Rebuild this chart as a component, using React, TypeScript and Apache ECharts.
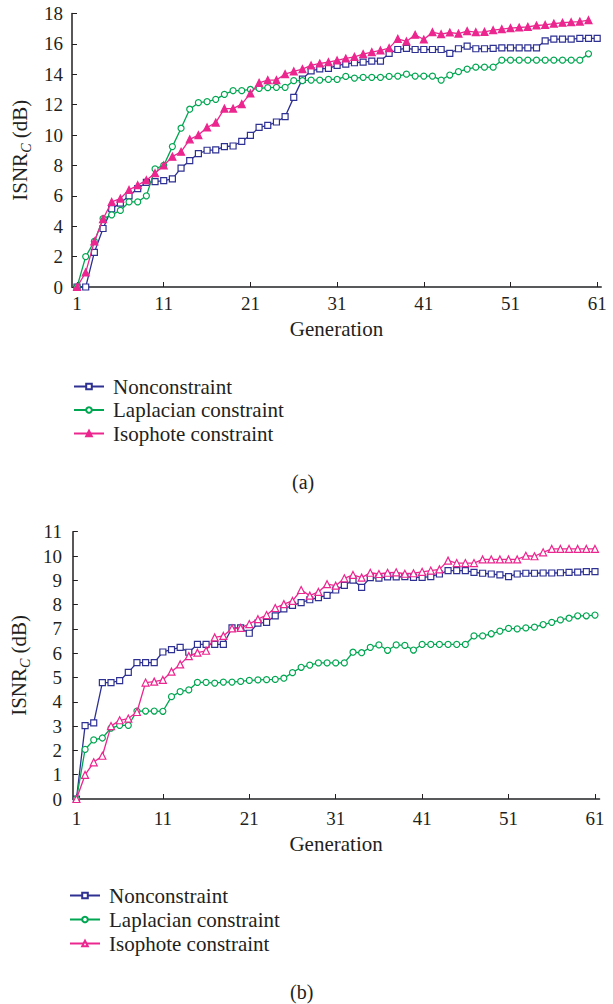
import React, { useEffect, useRef } from "react";
import * as echarts from "echarts";

const seriesNames = ["Nonconstraint", "Laplacian constraint", "Isophote constraint"];
const xTickLabels = [1, 11, 21, 31, 41, 51, 61];
const panelLabels = ["(a)", "(b)"];

// Panel (a)
const topNonconstraint = [
  0, 0, 2.28, 3.85, 5.15, 5.52, 6.0, 6.48, 6.88, 6.94,
  7.0, 7.12, 7.82, 8.32, 8.78, 9.0, 9.02, 9.24, 9.28, 9.59,
  9.98, 10.5, 10.64, 10.86, 11.21, 12.48, 13.68, 14.23, 14.36, 14.39,
  14.58, 14.67, 14.76, 14.8, 14.87, 14.87, 15.37, 15.63, 15.7, 15.63,
  15.63, 15.63, 15.63, 15.37, 15.68, 15.85, 15.68, 15.68, 15.7, 15.74,
  15.74, 15.74, 15.74, 15.74, 16.2, 16.31, 16.31, 16.31, 16.36, 16.36,
  16.36,
];
const topLaplacian = [
  0, 2.0, 3.0, 4.5, 4.75, 5.04, 5.6, 5.6, 6.0, 7.77,
  8.0, 9.24, 10.45, 11.7, 12.13, 12.2, 12.35, 12.68, 12.92, 12.92,
  13.0, 13.07, 13.12, 13.14, 13.14, 13.58, 13.58, 13.62, 13.62, 13.66,
  13.66, 13.86, 13.75, 13.8, 13.8, 13.8, 13.86, 13.88, 14.01, 13.88,
  13.88, 13.88, 13.62, 13.95, 14.17, 14.34, 14.47, 14.47, 14.47, 14.93,
  14.93, 14.93, 14.93, 14.93, 14.93, 14.93, 14.93, 14.93, 14.93, 15.35,
];
const topIsophote = [
  0, 0.96, 3.0, 4.47, 5.6, 5.82, 6.39, 6.7, 7.03, 7.49,
  8.0, 8.58, 8.9, 9.72, 10.0, 10.5, 10.82, 11.74, 11.74, 12.04,
  12.74, 13.44, 13.62, 13.62, 14.01, 14.19, 14.34, 14.58, 14.71, 14.8,
  14.91, 15.04, 15.15, 15.33, 15.46, 15.57, 15.72, 16.33, 16.16, 16.6,
  16.29, 16.77, 16.64, 16.75, 16.68, 16.84, 16.77, 16.79, 16.9, 16.97,
  17.04, 17.08, 17.12, 17.21, 17.25, 17.34, 17.39, 17.43, 17.47, 17.56,
];

// Panel (b)
const botNonconstraint = [
  0, 3.02, 3.13, 4.79, 4.79, 4.87, 5.21, 5.61, 5.61, 5.61,
  6.05, 6.15, 6.24, 6.04, 6.36, 6.36, 6.36, 6.36, 7.04, 7.04,
  6.82, 7.24, 7.27, 7.54, 7.82, 7.97, 8.08, 8.2, 8.29, 8.38,
  8.6, 8.79, 9.01, 8.71, 9.11, 9.09, 9.14, 9.14, 9.15, 9.12,
  9.12, 9.15, 9.26, 9.4, 9.4, 9.4, 9.33, 9.29, 9.26, 9.22,
  9.15, 9.26, 9.29, 9.29, 9.3, 9.3, 9.31, 9.33, 9.34, 9.36,
  9.36,
];
const botLaplacian = [
  0, 2.04, 2.43, 2.51, 2.92, 3.03, 3.03, 3.62, 3.62, 3.62,
  3.61, 4.21, 4.42, 4.49, 4.8, 4.8, 4.77, 4.81, 4.81, 4.84,
  4.88, 4.9, 4.91, 4.92, 4.97, 5.2, 5.42, 5.51, 5.6, 5.6,
  5.6, 5.6, 6.04, 6.02, 6.24, 6.34, 6.12, 6.34, 6.32, 6.13,
  6.36, 6.36, 6.36, 6.36, 6.36, 6.36, 6.71, 6.71, 6.8, 6.91,
  7.02, 7.0, 7.04, 7.07, 7.18, 7.27, 7.37, 7.44, 7.54, 7.54,
  7.57,
];
const botIsophote = [
  0, 0.99, 1.51, 1.78, 3.0, 3.24, 3.31, 3.58, 4.79, 4.83,
  4.9, 5.24, 5.54, 5.88, 6.02, 6.1, 6.65, 6.71, 7.02, 7.04,
  7.2, 7.4, 7.57, 7.86, 8.02, 8.15, 8.6, 8.37, 8.52, 8.84,
  8.78, 9.08, 9.22, 9.11, 9.31, 9.26, 9.31, 9.33, 9.27, 9.29,
  9.35, 9.4, 9.45, 9.81, 9.71, 9.71, 9.71, 9.86, 9.86, 9.86,
  9.86, 9.86, 10.01, 9.99, 10.15, 10.29, 10.29, 10.29, 10.29, 10.29,
  10.29,
];

const FONT = "'Liberation Serif', 'Times New Roman', serif";
const TEXT = "#231f20";
const BLUE = "#2e3192";
const GREEN = "#00a651";
const PINK = "#ec268f";

const toPairs = (vals: number[]) => vals.map((v, i) => [i + 1, v]);

type Panel = {
  values: number[][];
  pinkFilled: boolean;
  grid: { left: number; top: number; width: number; height: number };
  xMin: number;
  xMax: number;
  yMax: number;
  yInterval: number;
  xLabelMargin: number;
  xNameGap: number;
  yLabelMargin: number;
  yNameGap: number;
  legendLeft: number;
  legendTop: number;
  legendRow: number;
  caption: string;
  captionX: number;
  captionY: number;
};

function buildOption(p: Panel) {
  const symbols = ["rect", "circle", "triangle"];
  const colors = [BLUE, GREEN, PINK];
  const fills = ["#ffffff", "#ffffff", p.pinkFilled ? PINK : "#ffffff"];
  const sizes = [6, 6, 7];
  return {
    animation: false,
    grid: { ...p.grid, containLabel: false },
    legend: {
      orient: "vertical",
      left: p.legendLeft,
      top: p.legendTop,
      padding: 0,
      itemWidth: 30,
      itemHeight: 7,
      itemGap: p.legendRow - 21,
      selectedMode: false,
      textStyle: {
        fontFamily: FONT,
        fontSize: 21,
        color: TEXT,
        lineHeight: 21,
        padding: [0, 0, 0, 4],
      },
      data: seriesNames,
    },
    graphic: [
      {
        type: "text",
        left: p.captionX,
        top: p.captionY,
        style: { text: p.caption, font: `20px ${FONT}`, fill: TEXT },
      },
    ],
    xAxis: {
      type: "value",
      min: p.xMin,
      max: p.xMax,
      name: "Generation",
      nameLocation: "middle",
      nameGap: p.xNameGap,
      nameTextStyle: { fontFamily: FONT, fontSize: 21, color: TEXT },
      axisLine: { show: true, lineStyle: { color: "#58595b", width: 2 } },
      axisTick: {
        show: true,
        inside: true,
        length: 5,
        customValues: xTickLabels,
        lineStyle: { color: TEXT, width: 1 },
      },
      axisLabel: {
        customValues: xTickLabels,
        margin: p.xLabelMargin,
        fontFamily: FONT,
        fontSize: 19,
        color: TEXT,
      },
      splitLine: { show: false },
    },
    yAxis: {
      type: "value",
      min: 0,
      max: p.yMax,
      interval: p.yInterval,
      name: "{n|ISNR}{s|C}{n| (dB)}",
      nameLocation: "middle",
      nameRotate: 90,
      nameGap: p.yNameGap,
      nameTextStyle: {
        fontFamily: FONT,
        color: TEXT,
        rich: {
          n: { fontFamily: FONT, fontSize: 21, color: TEXT, lineHeight: 24, verticalAlign: "top" },
          s: {
            fontFamily: FONT,
            fontSize: 14,
            fontStyle: "italic",
            color: TEXT,
            lineHeight: 14,
            verticalAlign: "bottom",
          },
        },
      },
      axisLine: { show: true, lineStyle: { color: TEXT, width: 1.5 } },
      axisTick: { show: true, inside: true, length: 5, lineStyle: { color: TEXT, width: 1 } },
      axisLabel: { margin: p.yLabelMargin, fontFamily: FONT, fontSize: 19, color: TEXT },
      splitLine: { show: false },
    },
    series: p.values.map((vals, k) => ({
      name: seriesNames[k],
      type: "line",
      data: toPairs(vals),
      symbol: symbols[k],
      symbolSize: sizes[k],
      showAllSymbol: true,
      lineStyle: { color: colors[k], width: 1.3 },
      itemStyle: { color: fills[k], borderColor: colors[k], borderWidth: 1.2 },
      z: 3 + k,
    })),
  };
}

const panels: Panel[] = [
  {
    values: [topNonconstraint, topLaplacian, topIsophote],
    pinkFilled: true,
    grid: { left: 72, top: 13.5, width: 529, height: 273.5 },
    xMin: 0.42,
    xMax: 61.44,
    yMax: 18,
    yInterval: 2,
    xLabelMargin: 7,
    xNameGap: 31,
    yLabelMargin: 9,
    yNameGap: 36,
    legendLeft: 73,
    legendTop: 376,
    legendRow: 23.5,
    caption: panelLabels[0],
    captionX: 292,
    captionY: 472,
  },
  {
    values: [botNonconstraint, botLaplacian, botIsophote],
    pinkFilled: false,
    grid: { left: 67.7, top: 31.7, width: 531.6, height: 267.3 },
    xMin: 0.59,
    xMax: 61.5,
    yMax: 11,
    yInterval: 1,
    xLabelMargin: 10,
    xNameGap: 34,
    yLabelMargin: 11,
    yNameGap: 37,
    legendLeft: 69,
    legendTop: 385,
    legendRow: 24,
    caption: panelLabels[1],
    captionX: 290,
    captionY: 482,
  },
];

function ChartPanel({ panel, top, height }: { panel: Panel; top: number; height: number }) {
  const ref = useRef<HTMLDivElement>(null);
  useEffect(() => {
    if (!ref.current) return;
    const chart = echarts.init(ref.current, undefined, { renderer: "svg" });
    chart.setOption(buildOption(panel) as any);
    return () => chart.dispose();
  }, [panel]);
  return (
    <div
      ref={ref}
      style={{ position: "absolute", left: 0, top, width: 613, height }}
    />
  );
}

export default function App() {
  return (
    <div style={{ position: "fixed", left: 0, top: 0, width: 613, height: 1004, background: "#fff" }}>
      <ChartPanel panel={panels[0]} top={0} height={500} />
      <ChartPanel panel={panels[1]} top={500} height={504} />
    </div>
  );
}
